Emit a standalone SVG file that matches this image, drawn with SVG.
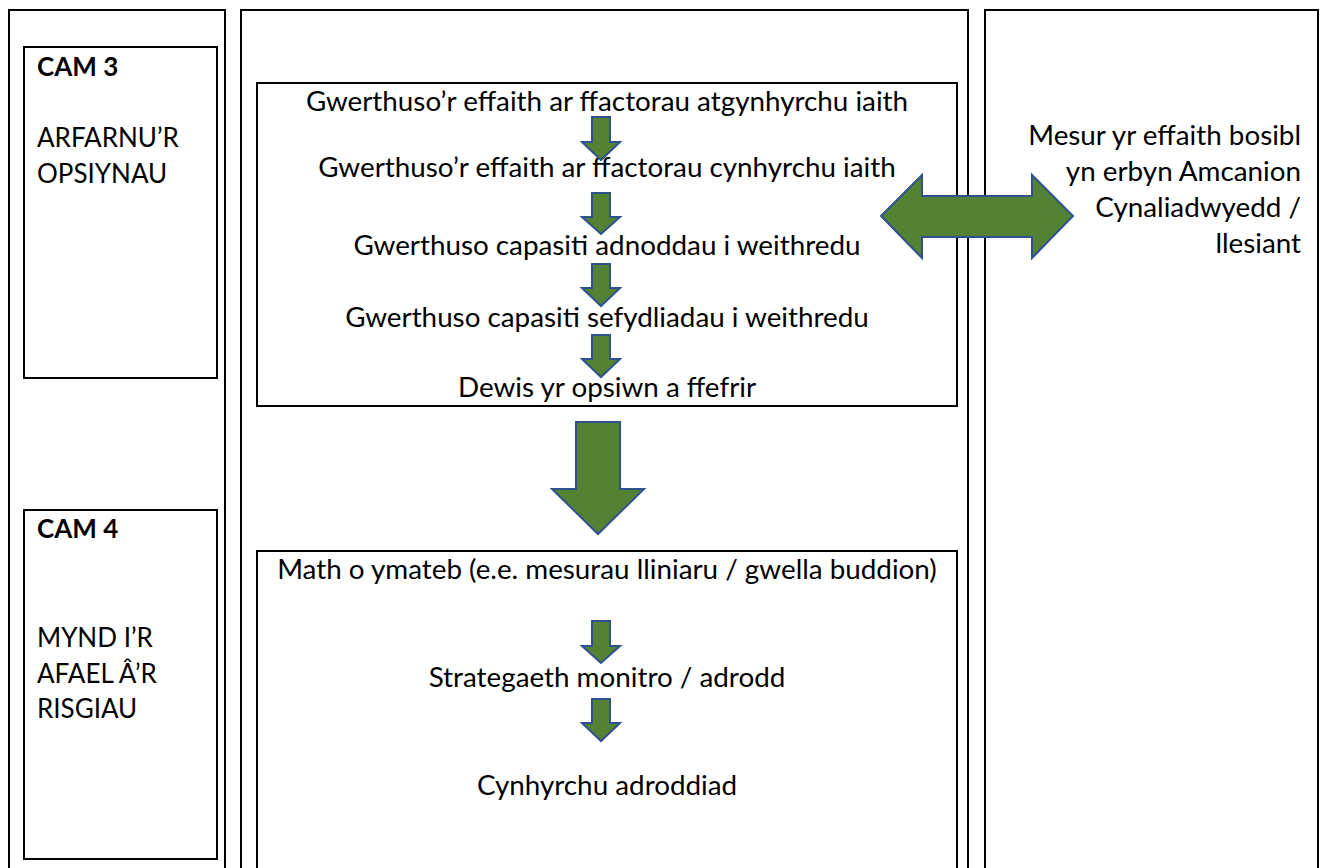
<svg xmlns="http://www.w3.org/2000/svg" width="1324" height="868" viewBox="0 0 1324 868">
<style>
.frame{fill:none;stroke:#000;stroke-width:2}
.t{font-family:Lato,"Open Sans","Liberation Sans",sans-serif;font-size:27.8px;fill:#000}
.s{font-size:26px}
.c{text-anchor:middle}
.r{text-anchor:end}
.b{font-weight:bold}
.arr{fill:#548235;stroke:#2F528F;stroke-width:2;stroke-linejoin:miter}
</style>
<rect width="1324" height="868" fill="#fff"/>
<g id="columns">
<rect class="frame" x="9" y="10" width="216" height="880"/>
<rect class="frame" x="241" y="10" width="727" height="880"/>
<rect class="frame" x="985" y="10" width="333" height="880"/>
</g>
<g id="cam3">
<rect class="frame" x="24" y="47" width="193" height="331"/>
<text class="t s b" x="37" y="76">CAM 3</text>
<text class="t s" x="37" y="147">ARFARNU’R</text>
<text class="t s" x="37" y="183">OPSIYNAU</text>
</g>
<g id="cam4">
<rect class="frame" x="24" y="510" width="193" height="349"/>
<text class="t s b" x="37" y="538">CAM 4</text>
<text class="t s" x="37" y="647">MYND I’R</text>
<text class="t s" x="37" y="683">AFAEL Â’R</text>
<text class="t s" x="37" y="718">RISGIAU</text>
</g>
<g id="options">
<rect class="frame" x="257" y="83" width="700" height="323"/>
<text class="t c" x="607" y="111">Gwerthuso’r effaith ar ffactorau atgynhyrchu iaith</text>
<text class="t c" x="607" y="177">Gwerthuso’r effaith ar ffactorau cynhyrchu iaith</text>
<text class="t c" x="607" y="255">Gwerthuso capasiti adnoddau i weithredu</text>
<text class="t c" x="607" y="327">Gwerthuso capasiti sefydliadau i weithredu</text>
<text class="t c" x="607" y="397">Dewis yr opsiwn a ffefrir</text>
</g>
<g id="risks">
<rect class="frame" x="257" y="551" width="700" height="340"/>
<text class="t c" x="607" y="579">Math o ymateb (e.e. mesurau lliniaru / gwella buddion)</text>
<text class="t c" x="607" y="687">Strategaeth monitro / adrodd</text>
<text class="t c" x="607" y="795">Cynhyrchu adroddiad</text>
</g>
<g id="wellbeing">
<text class="t r" x="1301" y="145">Mesur yr effaith bosibl</text>
<text class="t r" x="1301" y="181">yn erbyn Amcanion</text>
<text class="t r" x="1301" y="217">Cynaliadwyedd /</text>
<text class="t r" x="1301" y="253">llesiant</text>
</g>
<g id="connectors">
<polygon class="arr" points="592,117 610,117 610,142 620,142 601,160 582,142 592,142"/>
<polygon class="arr" points="592,193 610,193 610,217 620,217 601,234 582,217 592,217"/>
<polygon class="arr" points="592,264 610,264 610,288 620,288 601,306 582,288 592,288"/>
<polygon class="arr" points="592,335 610,335 610,359 620,359 601,377 582,359 592,359"/>
<polygon class="arr" points="576,422 620,422 620,489 644,489 598,534 552,489 576,489"/>
<polygon class="arr" points="592,621 610,621 610,646 620,646 601,663 582,646 592,646"/>
<polygon class="arr" points="592,699 610,699 610,723 620,723 601,741 582,723 592,723"/>
<polygon class="arr" points="881,216 922,175 922,196 1032,196 1032,175 1073,216 1032,258 1032,237 922,237 922,258"/>
</g>
</svg>
